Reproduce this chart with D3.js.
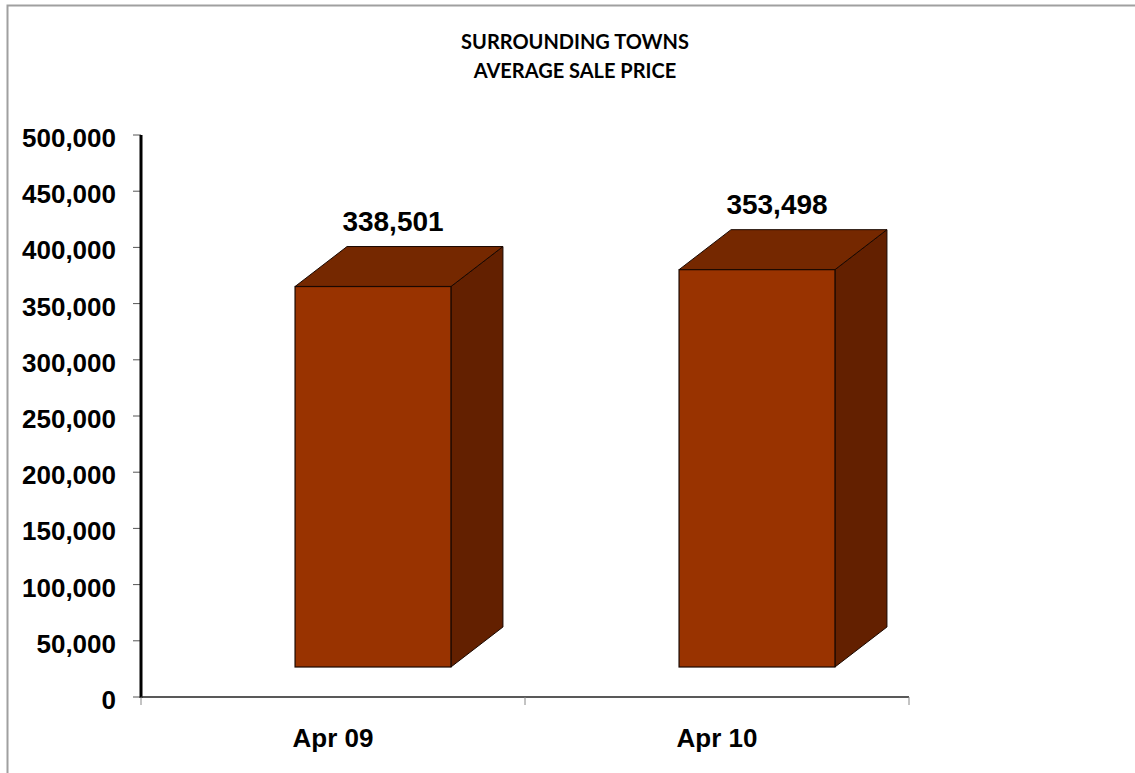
<!DOCTYPE html>
<html>
<head>
<meta charset="utf-8">
<script src="https://cdn.jsdelivr.net/npm/d3@7/dist/d3.min.js"></script>
<style>
  html, body { margin: 0; padding: 0; background: #fff; }
  svg { display: block; }
</style>
</head>
<body>
<svg id="chart" width="1135" height="773"></svg>
<script>
// Average sale price, surrounding towns
const categories = ["Apr 09", "Apr 10"];
const values = [338501, 353498];
const valueLabels = ["338,501", "353,498"];
const yTicks = [0, 50000, 100000, 150000, 200000, 250000, 300000, 350000, 400000, 450000, 500000];
const titleLines = ["SURROUNDING TOWNS", "AVERAGE SALE PRICE"];

(function () {
const svg = d3.select("#chart");
const W = 1135, H = 773;

// outer frame (left and top edges visible)
svg.append("path")
  .attr("d", `M7.5,${H} L7.5,5.5 L${W},5.5`)
  .attr("fill", "none")
  .attr("stroke", "#a0a0a0")
  .attr("stroke-width", 2);

// plot geometry
const plotLeft = 141, plotRight = 909, plotTop = 135, plotBottom = 697;
const y = d3.scaleLinear().domain([0, 500000]).range([plotBottom, plotTop]);
const x = d3.scaleBand().domain(categories).range([plotLeft, plotRight]).padding(0);

// 3D box parameters
const depthX = 52, depthY = 40;   // back face offset
const floorLift = 30;             // front face raised above the axis line
const barFrac = 0.406;            // front face width as share of band
const barShift = 40;              // front face center offset inside the band

const colFront = "#993300", colTop = "#752800", colSide = "#632000";

// title
svg.append("g")
  .selectAll("text")
  .data(titleLines)
  .join("text")
  .attr("x", 575)
  .attr("y", (d, i) => 49 + i * 29)
  .attr("text-anchor", "middle")
  .attr("font-family", "Lato, 'Open Sans', sans-serif")
  .attr("font-weight", "bold")
  .attr("font-size", 20)
  .attr("fill", "#000")
  .text(d => d);

// bars
const bw = x.bandwidth() * barFrac;
const bars = svg.append("g").selectAll("g")
  .data(categories.map((c, i) => ({ c, v: values[i], label: valueLabels[i] })))
  .join("g");

bars.each(function (d) {
  const g = d3.select(this);
  const cx = x(d.c) + x.bandwidth() / 2 + barShift;
  const x0 = cx - bw / 2, x1 = cx + bw / 2;
  const yT = y(d.v) - floorLift, yB = y(0) - floorLift;

  // side face
  g.append("path")
    .attr("d", `M${x1},${yT} L${x1 + depthX},${yT - depthY} L${x1 + depthX},${yB - depthY} L${x1},${yB} Z`)
    .attr("fill", colSide).attr("stroke", "#1a0800").attr("stroke-width", 1)
    .attr("stroke-linejoin", "round");
  // top face
  g.append("path")
    .attr("d", `M${x0},${yT} L${x0 + depthX},${yT - depthY} L${x1 + depthX},${yT - depthY} L${x1},${yT} Z`)
    .attr("fill", colTop).attr("stroke", "#1a0800").attr("stroke-width", 1)
    .attr("stroke-linejoin", "round");
  // front face
  g.append("rect")
    .attr("x", x0).attr("y", yT)
    .attr("width", bw).attr("height", yB - yT)
    .attr("fill", colFront).attr("stroke", "#1a0800").attr("stroke-width", 1.2);

  // value label
  g.append("text")
    .attr("x", cx + 20)
    .attr("y", yT - depthY - 16)
    .attr("text-anchor", "middle")
    .attr("font-family", "'Liberation Sans', Arial, sans-serif")
    .attr("font-weight", "bold")
    .attr("font-size", 28)
    .attr("fill", "#000")
    .text(d.label);
});

// y axis
const yAxis = svg.append("g");
yAxis.selectAll("line.tick")
  .data(yTicks)
  .join("line")
  .attr("class", "tick")
  .attr("x1", plotLeft - 8).attr("x2", plotLeft)
  .attr("y1", d => y(d)).attr("y2", d => y(d))
  .attr("stroke", "#555").attr("stroke-width", 1);
yAxis.append("line")
  .attr("x1", plotLeft).attr("x2", plotLeft)
  .attr("y1", plotTop).attr("y2", plotBottom + 1)
  .attr("stroke", "#000").attr("stroke-width", 3);
yAxis.selectAll("text")
  .data(yTicks)
  .join("text")
  .attr("x", 116)
  .attr("y", d => y(d) + 12)
  .attr("text-anchor", "end")
  .attr("font-family", "'Liberation Sans', Arial, sans-serif")
  .attr("font-weight", "bold")
  .attr("font-size", 26)
  .attr("fill", "#000")
  .text(d => d3.format(",")(d));

// x axis
const xAxis = svg.append("g");
xAxis.append("line")
  .attr("x1", plotLeft).attr("x2", plotRight)
  .attr("y1", plotBottom).attr("y2", plotBottom)
  .attr("stroke", "#222").attr("stroke-width", 1.5);
const xTickPos = categories.map(c => x(c)).concat([x(categories[categories.length - 1]) + x.bandwidth()]);
xAxis.selectAll("line.tick")
  .data(xTickPos)
  .join("line")
  .attr("class", "tick")
  .attr("x1", d => d).attr("x2", d => d)
  .attr("y1", plotBottom).attr("y2", plotBottom + 8)
  .attr("stroke", "#888").attr("stroke-width", 1);
xAxis.selectAll("text")
  .data(categories)
  .join("text")
  .attr("x", d => x(d) + x.bandwidth() / 2)
  .attr("y", 747)
  .attr("text-anchor", "middle")
  .attr("font-family", "'Liberation Sans', Arial, sans-serif")
  .attr("font-weight", "bold")
  .attr("font-size", 26)
  .attr("fill", "#000")
  .text(d => d);
})();
</script>
</body>
</html>
